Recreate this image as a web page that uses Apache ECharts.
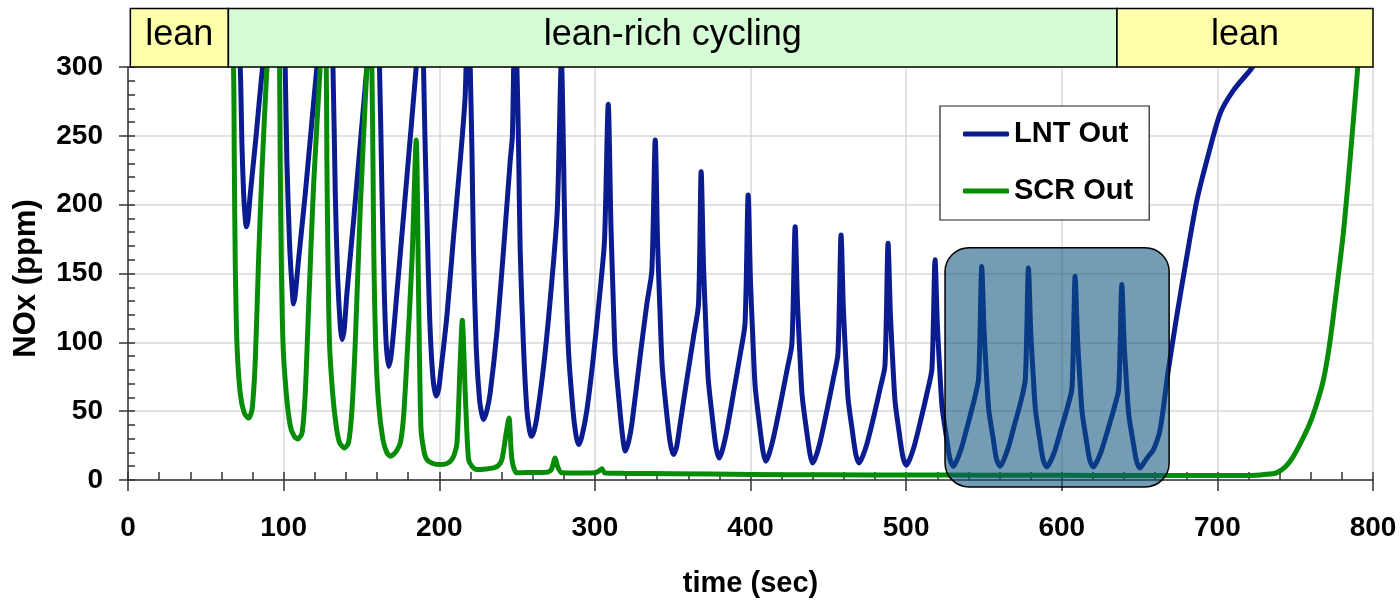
<!DOCTYPE html>
<html>
<head>
<meta charset="utf-8">
<script src="https://cdn.jsdelivr.net/npm/echarts/dist/echarts.min.js"></script>
<style>html,body{margin:0;padding:0;background:#fff}#c{width:1400px;height:603px}</style>
</head>
<body>
<div id="c"></div>
<script>
// ---- data (time in sec, NOx in ppm) ----
const lntOut = [
[0,340],[65,340],[70,330],[72.1,300],[73.2,244],[74.3,208],[75.2,192],[76,184],[77,188],[78.6,208],[81.8,244],[86.5,300],[90,330],[95,360],[98.5,400],[100,340],[101,300],[102.1,232],[103.8,172],[105.4,140],[106.4,128],[107.5,135],[109.6,160],[113.9,208],[118.2,261],[121.4,300],[125,340],[128.5,400],[130,340],[131.7,300],[133.2,208],[134.7,148],[136.4,112],[137.5,102],[138.8,108],[140.7,136],[145,189],[149.2,244],[153.5,300],[156,340],[158.5,400],[160,330],[161.6,300],[163.2,208],[164.7,136],[165.9,99],[167.4,82.5],[168.8,88],[170.6,107],[172.8,136],[179.2,220],[185.2,300],[187,330],[188.5,400],[189.9,300],[191,240],[192.1,191],[193.8,119],[195.9,75],[198,61],[199.6,66],[200.6,75],[204.9,119],[209.2,177],[213.5,232],[216.7,280],[218.5,360],[219.9,300],[221,240],[222,167],[223.8,95],[225.9,58],[227.5,47],[228.5,44],[230.5,50],[232.7,63],[237,107],[241.3,167],[245.6,232],[247,250],[248.5,330],[249.9,300],[251,240],[252,167],[254.2,95],[256.3,51],[258,36],[259.1,31.7],[261,36],[262.8,46],[267,82],[271.3,131],[275.8,195],[278.5,305],[279.8,240],[280.9,167],[283,95],[285.9,51],[287.8,33],[289.5,25.7],[291.5,31],[294.9,51],[299.1,90],[303.4,138],[306.2,174],[308.6,273],[310.3,186],[311.6,138],[313.1,90],[315.8,54],[318,30],[319.5,21],[321.7,28],[323.8,41],[329.1,90],[333.4,128],[336.6,152],[338.8,247],[340.3,172],[341.8,124],[343.3,82],[346,50],[348.4,27],[350.5,18.5],[352.5,24],[354.8,41],[359.1,73],[363.4,104],[366.6,128],[368.3,224],[369.8,156],[371.3,112],[372.8,74],[375.5,45],[377.8,24],[379.9,16],[382,22],[385,37],[389.2,64],[393.5,92],[396.5,114],[398.5,207],[400,144],[401.5,103],[403,68],[405.7,41],[408,21],[409.9,13.6],[412,19],[415,32],[419.2,55],[423.5,80],[426.6,99],[428.7,184],[430.2,128],[431.7,92],[433.2,61],[435.9,37],[438.2,19],[439.8,12.4],[442,17],[445,29],[449.2,51],[453.3,74],[456.2,92],[458.2,178],[459.7,124],[461.2,89],[462.7,59],[465.4,36],[467.7,18.5],[469.8,12.4],[472,17],[475,27],[479.2,46],[483.4,67],[486.4,83],[488.4,172],[489.9,120],[491.4,86],[492.9,57],[495.6,34],[497.9,17],[500.2,10.8],[502.3,15],[505.3,25],[509.5,44],[513.6,64],[516.6,81],[518.6,160],[520.1,112],[521.6,80],[523.1,53],[525.8,32],[528.1,15.5],[530.4,10],[532.5,14],[535.5,23],[539.6,40],[543.7,58],[546.6,74],[548.6,155],[550.1,108],[551.6,77],[553.1,51],[555.8,31],[558.1,15],[560.4,10],[562.5,14],[565.5,23],[569.6,40],[573.7,57],[576.6,73],[578.6,154],[580.1,107],[581.6,77],[583.1,51],[585.8,30],[588.1,14.5],[590.4,9.5],[592.5,13],[595.5,21],[599.6,37],[603.7,53],[606.6,67],[608.6,148],[610.1,103],[611.6,74],[613.1,49],[615.8,29],[618.1,14],[620.3,9.5],[622.4,13],[625.4,21],[629.5,36],[633.6,52],[636.6,66],[638.6,142],[640.1,99],[641.6,71],[643.1,47],[645.8,28],[648.1,13.5],[650.3,8.8],[652.5,12],[655.5,17],[658.9,22],[663.2,36.6],[668.5,80],[673.9,119],[680.3,162],[686.8,203],[693.2,232],[701.7,266],[710.3,283],[722,299],[730,312],[800,330]
];
const scrOut = [
[0,360],[60,360],[66,340],[67.8,300],[68.3,232],[68.9,160],[70,99],[72.1,63],[74.7,48.7],[77.5,45],[79.7,51],[81.8,87],[83.9,160],[86.1,225],[89.3,300],[92,350],[94.5,380],[96.5,340],[97.4,300],[97.8,232],[98.5,160],[99.6,99],[101.7,63],[104.3,39],[106.8,31.7],[109,29.8],[111.8,34],[113.9,63],[116,124],[119.2,213],[123.5,300],[125,330],[126.5,320],[127.4,300],[127.8,232],[128.5,160],[129.5,99],[131.5,63],[133.8,39],[136,27],[139,23.3],[141.7,27],[143.9,51],[146,99],[149.2,196],[153.5,300],[155,330],[156.2,320],[156.7,300],[157.4,232],[158,160],[159.1,99],[161,56],[163.8,29.3],[166.4,19.7],[168.5,17.3],[170.5,18.5],[172.5,21],[175,27],[177,45],[179.2,87],[182.5,160],[185.2,247],[186.7,136],[188.2,39],[190,22],[192,15],[196,12],[200.6,11.2],[205,12],[207.5,14],[209.5,18],[211.4,27],[213.5,87],[214.8,116],[216.7,63],[218.8,15],[221,10],[224.2,7.6],[230,8],[234.9,8.8],[238,10.5],[240.3,15],[243,34],[244.8,45],[246.7,15],[249.9,5.2],[260,5.5],[269.2,5.7],[272,7.5],[274.5,16],[276,10],[278.8,5.2],[290,5],[300,5.2],[302.5,6.5],[304.5,8.1],[306.5,5],[320,4.8],[350,4.6],[400,4],[450,3.8],[500,3.6],[550,3.5],[600,3.4],[650,3.3],[700,3.2],[721,3.3],[730,4],[738,5.2],[744,10],[748.8,17.2],[754,28],[759.5,41.4],[764,56],[768,72],[771.5,94],[774.5,119],[780.9,179],[785.2,232],[789.5,290],[792,320],[800,360]
];
const seriesNames = ['LNT Out', 'SCR Out'];
const phaseNames = ['lean', 'lean-rich cycling', 'lean'];
const phaseStart = [1.5, 64.5, 635.5];
const phaseEnd = [64.5, 635.5, 800];
const highlightTime = [525, 669];
const highlightPpm = [-5, 168.7];
const xRange = [0, 800];
const yRange = [0, 300];

// ---- styles ----
const FONT = '"Liberation Sans", Arial, Helvetica, sans-serif';
const BLUE = '#0a1c8f';
const GREEN = '#078c07';
const phaseFill = ['#ffffab', '#d5fcd5', '#ffffab'];
const axisCol = '#333';

const chart = echarts.init(document.getElementById('c'), null, {renderer: 'canvas'});
const option = {
  animation: false,
  backgroundColor: '#fff',
  grid: {left: 128, right: 27, top: 67, bottom: 122, containLabel: false},
  legend: {
    orient: 'vertical', left: 940, top: 106,
    padding: [13, 16, 14, 23], itemGap: 27, itemWidth: 46, itemHeight: 5,
    icon: 'roundRect',
    borderColor: '#222', borderWidth: 1.2, backgroundColor: '#fff',
    textStyle: {fontSize: 29, fontWeight: 'bold', color: '#000', fontFamily: FONT, lineHeight: 30},
    data: seriesNames
  },
  xAxis: [{
    type: 'value', min: xRange[0], max: xRange[1], interval: 100,
    name: 'time (sec)', nameLocation: 'middle', nameGap: 89,
    nameTextStyle: {fontSize: 29, fontWeight: 'bold', color: '#000', fontFamily: FONT},
    axisLine: {show: true, onZero: false, lineStyle: {color: axisCol, width: 1.5}},
    axisTick: {show: true, inside: false, length: 11, lineStyle: {color: axisCol, width: 1.5}},
    axisLabel: {margin: 34, fontSize: 28, fontWeight: 'bold', color: '#000', fontFamily: FONT},
    splitLine: {show: true, lineStyle: {color: '#d9d9d9', width: 1.5}}
  }, {
    type: 'value', min: xRange[0], max: xRange[1], interval: 20, position: 'bottom', offset: 0,
    axisLine: {show: false, onZero: false},
    axisTick: {show: true, inside: true, length: 8, lineStyle: {color: axisCol, width: 1.5}},
    axisLabel: {show: false}, splitLine: {show: false}
  }],
  yAxis: [{
    type: 'value', min: yRange[0], max: yRange[1], interval: 50,
    name: 'NOx (ppm)', nameLocation: 'middle', nameGap: 86,
    nameTextStyle: {fontSize: 31, fontWeight: 'bold', color: '#000', fontFamily: FONT, padding: [0, 10, 0, 0]},
    axisLine: {show: true, onZero: false, lineStyle: {color: axisCol, width: 1.5}},
    axisTick: {show: true, inside: false, length: 9, lineStyle: {color: axisCol, width: 1.5}},
    axisLabel: {margin: 25, fontSize: 28, fontWeight: 'bold', color: '#000', fontFamily: FONT},
    splitLine: {show: true, lineStyle: {color: '#d9d9d9', width: 1.5}}
  }, {
    type: 'value', min: yRange[0], max: yRange[1], interval: 10, position: 'left', offset: 0,
    axisLine: {show: false, onZero: false},
    axisTick: {show: true, inside: true, length: 7, lineStyle: {color: axisCol, width: 1.5}},
    axisLabel: {show: false}, splitLine: {show: false}
  }],
  series: [{
    name: seriesNames[0], type: 'line', data: lntOut, symbol: 'none', smooth: 0.25, clip: true,
    xAxisIndex: 0, yAxisIndex: 0, z: 3,
    lineStyle: {color: BLUE, width: 5, cap: 'round', join: 'round'}, itemStyle: {color: BLUE}
  }, {
    name: seriesNames[1], type: 'line', data: scrOut, symbol: 'none', smooth: 0.25, clip: true,
    xAxisIndex: 0, yAxisIndex: 0, z: 4,
    lineStyle: {color: GREEN, width: 5, cap: 'round', join: 'round'}, itemStyle: {color: GREEN}
  }]
};
chart.setOption(option);

function px(t, v) { return chart.convertToPixel({gridIndex: 0}, [t, v]); }
const els = [];
const boxTop = 8.5;
for (let i = 0; i < phaseNames.length; i++) {
  const a = px(phaseStart[i], yRange[1]);
  const b = px(phaseEnd[i], yRange[1]);
  els.push({type: 'rect', z: 60, shape: {x: a[0], y: boxTop, width: b[0] - a[0], height: a[1] - boxTop},
    style: {fill: phaseFill[i], stroke: '#000', lineWidth: 1.5}});
  els.push({type: 'text', z: 61, x: (a[0] + b[0]) / 2, y: (boxTop + a[1]) / 2 - 3,
    style: {text: phaseNames[i], fill: '#000', font: '36px ' + FONT,
      align: 'center', verticalAlign: 'middle', textAlign: 'center', textVerticalAlign: 'middle'}});
}
const p1 = px(highlightTime[0], highlightPpm[1]);
const p2 = px(highlightTime[1], highlightPpm[0]);
els.push({type: 'rect', z: 50, shape: {x: p1[0], y: p1[1], width: p2[0] - p1[0], height: p2[1] - p1[1], r: 24},
  style: {fill: 'rgba(10,82,125,0.57)', stroke: '#000', lineWidth: 1.5}});
chart.setOption({graphic: {elements: els}});
</script>
</body>
</html>
